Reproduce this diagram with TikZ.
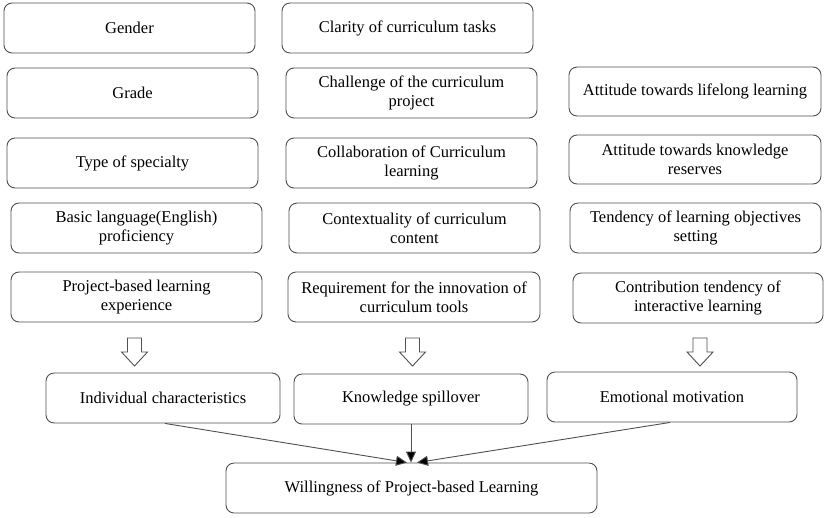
\documentclass[tikz,border=0pt]{standalone}
\usepackage{fontspec}
\setmainfont{Liberation Serif}
\usetikzlibrary{arrows.meta}
\definecolor{edgegray}{HTML}{505050}
\tikzset{
  box/.style={draw=edgegray, line width=0.9pt, rounded corners=8pt, align=center,
    inner sep=2pt, font=\fontsize{16.5}{19}\selectfont, text=black},
  conn/.style={draw=edgegray, line width=0.9pt, -{Triangle[length=11pt,width=10pt,fill=black]}},
  hollowarrow/.pic={\draw[edgegray, line width=0.9pt, fill=white]
    (-7,0) -- (7,0) -- (7,14) -- (13,14) -- (0,28) -- (-13,14) -- (-7,14) -- cycle;}
}
\begin{document}
\begin{tikzpicture}[x=1pt,y=-1pt]
\useasboundingbox[fill=white] (0,0) rectangle (829,517);
% left column
\node[box, minimum width=251pt, minimum height=50pt] (gender) at (129.5,28) {Gender};
\node[box, minimum width=251pt, minimum height=50pt] (grade) at (132.5,93) {Grade};
\node[box, minimum width=251pt, minimum height=50pt] (type) at (132.5,163) {Type of specialty};
\node[box, minimum width=251pt, minimum height=50pt] (basic) at (136.5,228) {Basic language(English)\\proficiency};
\node[box, minimum width=251pt, minimum height=50pt] (pbl) at (136.5,297) {Project-based learning\\experience};
% middle column
\node[box, minimum width=251pt, minimum height=50pt] (clarity) at (407.5,28) {Clarity of curriculum tasks};
\node[box, minimum width=251pt, minimum height=50pt] (challenge) at (411.5,93) {Challenge of the curriculum\\project};
\node[box, minimum width=251pt, minimum height=50pt] (collab) at (411.5,163) {Collaboration of Curriculum\\learning};
\node[box, minimum width=251pt, minimum height=50pt] (context) at (414.5,228) {Contextuality of curriculum\\content};
\node[box, minimum width=252pt, minimum height=50pt] (require) at (414,297) {Requirement for the innovation of\\curriculum tools};
% right column
\node[box, minimum width=252pt, minimum height=49pt] (lifelong) at (695,91.5) {Attitude towards lifelong learning};
\node[box, minimum width=252pt, minimum height=49pt] (reserves) at (695,159.5) {Attitude towards knowledge\\reserves};
\node[box, minimum width=251pt, minimum height=50pt] (tendency) at (695.5,228) {Tendency of learning objectives\\setting};
\node[box, minimum width=250pt, minimum height=50pt] (contrib) at (698,298) {Contribution tendency of\\interactive learning};
% hollow arrows
\pic at (134.5,338) {hollowarrow};
\pic at (412.5,338) {hollowarrow};
\pic at (700,338) {hollowarrow};
% bottom row
\node[box, minimum width=234pt, minimum height=50pt] (indiv) at (163,398) {Individual characteristics};
\node[box, minimum width=234pt, minimum height=50pt] (know) at (411,399) {Knowledge spillover};
\node[box, minimum width=250pt, minimum height=50pt] (emot) at (672,397) {Emotional motivation};
\node[box, minimum width=371pt, minimum height=50pt] (will) at (411.5,488) {Willingness of Project-based Learning};
% connectors
\draw[conn] ([xshift=2pt]indiv.south) -- ([xshift=-4.5pt]will.north);
\draw[conn] (know.south) -- ([xshift=-0.5pt]will.north);
\draw[conn] ([xshift=-2pt]emot.south) -- ([xshift=5.5pt]will.north);
\end{tikzpicture}
\end{document}
